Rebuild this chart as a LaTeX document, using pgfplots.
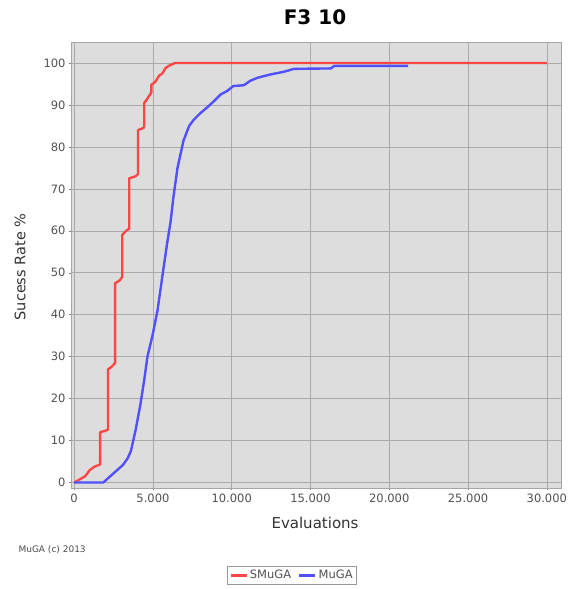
\documentclass[border=0pt]{standalone}
\usepackage{pgfplots}
\pgfplotsset{compat=1.18}
\usepackage{fontspec}
\setmainfont{DejaVu Sans}
\definecolor{smred}{RGB}{255,70,70}
\definecolor{mublue}{RGB}{80,80,255}
\definecolor{bggray}{RGB}{221,221,221}
\definecolor{gridgray}{RGB}{170,170,170}
\definecolor{ticktxt}{RGB}{80,80,80}
\begin{document}
\begin{tikzpicture}[x=1pt,y=1pt]
\useasboundingbox (0,0) rectangle (569,589);
\begin{axis}[
  at={(71pt,101pt)}, anchor=south west,
  scale only axis, width=490pt, height=446pt,
  xmin=-200, xmax=30900, ymin=-1.3, ymax=105,
  xtick={0,5000,10000,15000,20000,25000,30000},
  ytick={0,10,...,100},
  /pgf/number format/assume math mode=true,
  /pgf/number format/1000 sep={.},
  scaled x ticks=false,
  grid=major,
  major grid style={gridgray, line width=0.6pt},
  axis background/.style={fill=bggray},
  axis line style={gray!70},
  tick style={gray, line width=0.5pt},
  tick align=outside, major tick length=2pt,
  xtick pos=bottom, ytick pos=left,
  tick label style={font=\fontsize{11.5}{13}\selectfont, text=ticktxt},
  legend style={at={(0.451,-0.196)}, anchor=center, legend columns=2,
    draw=gray!80, line width=0.8pt, font=\fontsize{11.5}{13}\selectfont, text=ticktxt,
    inner sep=2pt, /tikz/every even column/.append style={column sep=5pt}},
  legend image code/.code={\draw[#1, line width=2.5pt] (0pt,0pt) -- (16pt,0pt);},
]
\addplot[smred, line width=2.4pt, line join=round] coordinates {
(0,0) (700,1.5) (1000,3) (1300,3.8) (1650,4.3) (1650,12) (1950,12.3) (2150,12.6)
(2150,27) (2350,27.5) (2600,28.5) (2600,47.5) (2900,48.2) (3050,49) (3050,59)
(3300,60) (3500,60.5) (3500,72.5) (3900,73) (4050,73.5) (4050,84) (4400,84.5)
(4450,85) (4450,90.5) (4650,91.5) (4900,93) (4900,94.8) (5150,95.5) (5400,97)
(5600,97.5) (5800,98.8) (6000,99.3) (6400,100) (30000,100)
};
\addlegendentry{SMuGA}
\addplot[mublue, line width=2.4pt, line join=round] coordinates {
(0,0) (1850,0) (2500,2.2) (3100,4.2) (3400,5.8) (3600,7.5) (3900,12.5) (4200,18.5)
(4450,24.5) (4650,30) (4970,35) (5290,41) (5670,51) (5900,57) (6115,62) (6300,68)
(6560,75) (6940,81.5) (7300,85) (7600,86.5) (8000,88) (8470,89.5) (8900,91)
(9300,92.5) (9700,93.3) (10100,94.5) (10770,94.7) (11200,95.8) (11660,96.5)
(12500,97.3) (13310,97.9) (13950,98.6) (16300,98.7) (16500,99.3) (21200,99.3)
};
\addlegendentry{MuGA}
\addplot[smred, line width=2.4pt, forget plot] coordinates {(16000,100) (21200,100)};
\end{axis}
\node[font=\fontsize{20}{24}\selectfont\bfseries] at (315,572) {F3 10};
\node[font=\fontsize{15}{18}\selectfont, text=black!80] at (315,66) {Evaluations};
\node[rotate=90, font=\fontsize{14.5}{17}\selectfont, text=black!80] at (20,322) {Sucess Rate \%};
\node[anchor=west, font=\fontsize{9}{10}\selectfont, text=black!70] at (15,39) {MuGA (c) 2013};
\end{tikzpicture}
\end{document}
